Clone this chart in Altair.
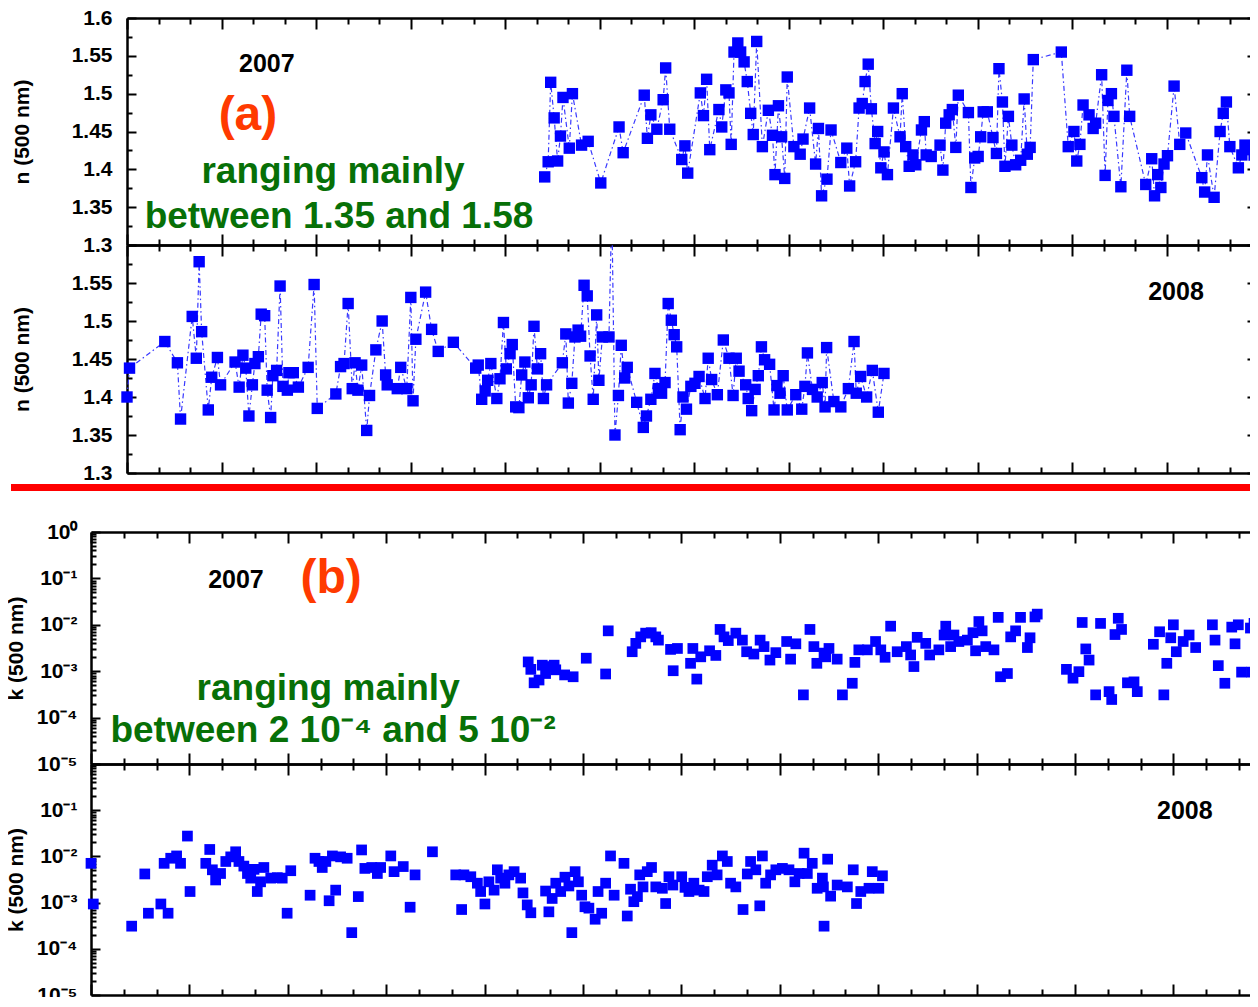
import altair as alt
import pandas as pd

# ---------------- data ----------------
n2007_day = [132.6, 133.7, 134.5, 135.6, 136.7, 137.6, 138.4, 140.4, 141.4, 144.3,
             146.4, 150.4, 156.2, 157.5, 164.2, 165.2, 166.3, 168.2, 170.2, 171.0,
             172.3, 176.1, 177.1, 178.0, 182.0, 183.0, 184.0, 185.0, 187.9, 188.8,
             190.1, 191.1, 191.8, 192.7, 193.9, 194.8, 195.9, 196.9, 198.0, 198.8,
             199.9, 201.7, 203.6, 204.9, 205.7, 206.8, 207.8, 208.8, 209.6, 211.7,
             213.7, 214.6, 216.7, 218.6, 219.5, 220.5, 222.2, 223.5, 226.6, 228.5,
             229.4, 231.3, 232.4, 233.4, 234.3, 235.3, 236.3, 237.5, 238.3, 239.3,
             240.3, 241.4, 243.3, 245.4, 246.1, 247.2, 248.3, 249.5, 250.4, 252.2,
             253.1, 253.7, 255.3, 258.1, 259.0, 259.9, 261.0, 262.0, 263.1, 263.9,
             267.1, 267.9, 269.1, 270.2, 271.0, 271.8, 273.1, 274.9, 276.0, 276.8,
             277.9, 278.7, 279.8, 280.9, 282.1, 283.7, 284.8, 285.8, 286.7, 287.7,
             296.6, 298.8, 300.6, 301.5, 302.5, 303.5, 305.4, 306.7, 307.5, 309.4,
             310.5, 311.4, 312.5, 313.3, 315.5, 317.4, 318.3, 323.4, 325.3, 326.2,
             327.2, 328.2, 329.2, 330.3, 332.4, 334.2, 336.1, 341.2, 342.1, 343.0,
             345.1, 347.0, 348.0, 349.0, 350.1, 352.8, 353.9, 354.9, 356.2, 357.8]
n2007 = [1.390, 1.410, 1.515, 1.468, 1.411, 1.444, 1.495, 1.428, 1.500, 1.432,
         1.437, 1.382, 1.456, 1.422, 1.498, 1.441, 1.472, 1.453, 1.492, 1.534,
         1.453, 1.413, 1.431, 1.395, 1.501, 1.471, 1.519, 1.426, 1.479, 1.456,
         1.505, 1.501, 1.433, 1.555, 1.567, 1.555, 1.542, 1.516, 1.474, 1.446,
         1.569, 1.430, 1.478, 1.445, 1.393, 1.484, 1.443, 1.388, 1.522, 1.430,
         1.420, 1.440, 1.481, 1.407, 1.454, 1.365, 1.387, 1.452, 1.409, 1.428,
         1.378, 1.410, 1.481, 1.487, 1.516, 1.539, 1.480, 1.434, 1.450, 1.402,
         1.423, 1.393, 1.481, 1.443, 1.500, 1.430, 1.404, 1.419, 1.406, 1.452,
         1.463, 1.419, 1.417, 1.432, 1.399, 1.461, 1.472, 1.479, 1.429, 1.498,
         1.475, 1.376, 1.415, 1.417, 1.443, 1.476, 1.476, 1.442, 1.421, 1.533,
         1.489, 1.404, 1.470, 1.432, 1.406, 1.412, 1.493, 1.420, 1.429, 1.545,
         1.555, 1.430, 1.450, 1.411, 1.433, 1.485, 1.472, 1.454, 1.461, 1.525,
         1.392, 1.491, 1.500, 1.470, 1.377, 1.531, 1.470, 1.380, 1.414, 1.365,
         1.393, 1.376, 1.407, 1.418, 1.510, 1.433, 1.448, 1.389, 1.370, 1.419,
         1.363, 1.450, 1.474, 1.489, 1.430, 1.402, 1.419, 1.432, 1.426, 1.419]

n2008_day = [0.0, 0.8, 12.0, 16.0, 17.0, 20.7, 22.0, 22.9, 23.7, 25.8,
             26.9, 28.7, 29.7, 34.3, 35.6, 36.8, 37.7, 38.7, 39.8, 40.6,
             41.7, 42.6, 43.7, 44.5, 45.6, 46.3, 47.5, 48.6, 49.5, 50.9,
             51.4, 52.8, 54.4, 57.5, 59.4, 60.4, 66.3, 67.8, 68.9, 70.2,
             71.5, 72.4, 73.3, 74.5, 76.1, 77.0, 79.0, 81.0, 82.1, 82.6,
             85.8, 86.9, 88.8, 90.1, 90.8, 91.7, 94.8, 96.7, 98.8, 103.6,
             110.7, 111.5, 112.6, 113.7, 114.5, 115.5, 117.4, 118.4, 119.5, 120.4,
             121.6, 122.3, 123.4, 124.4, 125.3, 126.3, 127.4, 128.3, 129.2, 130.3,
             131.3, 132.2, 133.2, 138.2, 139.3, 140.1, 141.2, 142.2, 143.2, 144.0,
             145.1, 146.1, 147.0, 148.0, 149.1, 149.8, 150.9, 153.0, 153.9, 154.9,
             156.0, 156.9, 158.0, 158.8, 161.8, 163.9, 164.9, 166.3, 167.6, 168.7,
             169.7, 170.8, 171.8, 172.8, 173.7, 174.5, 175.6, 176.5, 177.6, 179.0,
             180.3, 181.6, 183.5, 184.5, 185.6, 187.4, 189.3, 191.1, 192.4, 193.4,
             194.3, 196.4, 197.2, 198.3, 199.4, 200.4, 201.4, 202.4, 204.0, 205.4,
             206.3, 207.3, 208.3, 209.6, 212.3, 214.2, 215.2, 216.0, 217.6, 219.1,
             220.7, 221.6, 222.1, 224.4, 226.6, 229.0, 230.8, 231.5, 232.9, 234.8,
             236.6, 238.5, 240.3]
n2008 = [1.400, 1.438, 1.473, 1.445, 1.371, 1.506, 1.451, 1.578, 1.486, 1.383,
         1.426, 1.452, 1.416, 1.446, 1.413, 1.455, 1.438, 1.375, 1.416, 1.444,
         1.453, 1.509, 1.507, 1.409, 1.373, 1.428, 1.435, 1.546, 1.414, 1.409,
         1.432, 1.432, 1.413, 1.439, 1.548, 1.385, 1.404, 1.440, 1.444, 1.523,
         1.411, 1.445, 1.409, 1.442, 1.356, 1.402, 1.462, 1.500, 1.429, 1.416,
         1.411, 1.439, 1.411, 1.531, 1.395, 1.476, 1.538, 1.489, 1.460, 1.472,
         1.438, 1.442, 1.397, 1.408, 1.422, 1.444, 1.398, 1.424, 1.498, 1.437,
         1.457, 1.469, 1.387, 1.386, 1.429, 1.446, 1.399, 1.416, 1.493, 1.437,
         1.457, 1.398, 1.416, 1.445, 1.483, 1.392, 1.418, 1.479, 1.488, 1.480,
         1.547, 1.533, 1.454, 1.397, 1.508, 1.422, 1.479, 1.479, 1.650, 1.350,
         1.402, 1.468, 1.425, 1.439, 1.393, 1.360, 1.375, 1.397, 1.431, 1.411,
         1.405, 1.419, 1.523, 1.501, 1.482, 1.466, 1.357, 1.400, 1.384, 1.414,
         1.418, 1.427, 1.398, 1.451, 1.423, 1.403, 1.475, 1.451, 1.402, 1.451,
         1.434, 1.416, 1.398, 1.382, 1.410, 1.428, 1.466, 1.449, 1.443, 1.383,
         1.415, 1.405, 1.428, 1.383, 1.403, 1.384, 1.414, 1.458, 1.410, 1.400,
         1.419, 1.387, 1.465, 1.394, 1.387, 1.411, 1.473, 1.405, 1.427, 1.400,
         1.435, 1.380, 1.431]

k2007_day = [133.3, 134.1, 135.1, 136.6, 137.6, 138.6, 139.6, 141.2, 141.7, 144.4,
             147.0, 151.0, 156.9, 157.7, 165.0, 166.1, 167.6, 169.1, 170.8, 172.2,
             173.0, 176.7, 177.5, 178.8, 182.8, 183.5, 184.7, 185.9, 188.6, 190.5,
             191.8, 193.0, 194.3, 196.6, 198.6, 199.9, 202.1, 204.0, 205.2, 207.0,
             208.8, 212.1, 213.3, 214.9, 217.2, 219.2, 220.4, 221.3, 223.5, 224.0,
             225.0, 227.5, 229.1, 232.1, 232.9, 234.1, 236.7, 239.2, 240.8, 242.1,
             243.8, 245.8, 248.6, 249.9, 250.9, 251.9, 254.5, 255.7, 258.5, 260.1,
             260.6, 262.1, 263.1, 264.6, 267.2, 268.9, 269.7, 270.7, 271.7, 272.8,
             275.3, 276.6, 277.3, 279.4, 280.4, 281.9, 283.4, 285.5, 286.3, 287.8,
             288.5, 297.4, 299.4, 301.2, 302.2, 303.3, 304.3, 306.3, 307.8, 310.4,
             311.2, 312.2, 313.2, 314.2, 316.0, 318.0, 319.0, 323.9, 325.8, 327.1,
             328.0, 329.2, 330.0, 330.9, 333.0, 334.8, 336.8, 341.9, 342.7, 343.7,
             345.7, 347.8, 348.8, 349.8, 350.8, 353.5, 353.9, 354.6]
k2007_log10 = [-2.80, -2.96, -3.25, -3.19, -2.87, -3.05, -2.90, -2.87, -2.97, -3.08,
               -3.12, -2.72, -3.06, -2.13, -2.58, -2.40, -2.26, -2.18, -2.17, -2.26,
               -2.33, -2.53, -2.99, -2.51, -2.83, -2.51, -3.17, -2.69, -2.56, -2.66,
               -2.10, -2.26, -2.34, -2.18, -2.33, -2.58, -2.63, -2.33, -2.47, -2.76,
               -2.60, -2.36, -2.74, -2.41, -3.51, -2.10, -2.47, -2.83, -2.61, -2.69,
               -2.51, -2.74, -3.51, -3.26, -2.81, -2.54, -2.54, -2.36, -2.54, -2.70,
               -2.03, -2.58, -2.47, -2.65, -2.90, -2.27, -2.40, -2.65, -2.54, -2.22,
               -2.03, -2.47, -2.22, -2.36, -2.33, -2.17, -2.56, -1.93, -2.13, -2.47,
               -2.54, -1.84, -3.12, -3.05, -2.26, -2.13, -1.84, -2.49, -2.28, -1.83,
               -1.77, -2.96, -3.15, -3.01, -1.95, -2.52, -2.76, -3.51, -1.97, -3.44,
               -3.61, -2.21, -1.86, -2.10, -3.25, -3.23, -3.44, -2.42, -2.15, -3.51,
               -2.83, -2.28, -2.00, -2.58, -2.36, -2.22, -2.49, -2.00, -2.33, -2.88,
               -3.26, -2.05, -2.41, -2.00, -3.02, -2.07, -3.02, -1.97]

k2008_day = [0.0, 0.7, 12.4, 16.4, 17.5, 21.3, 22.3, 23.5, 24.3, 26.1,
             27.3, 29.4, 30.2, 35.0, 36.2, 37.0, 38.0, 39.5, 41.1, 42.6,
             44.1, 45.1, 46.6, 47.7, 48.7, 49.7, 50.7, 51.7, 52.7, 54.8,
             56.8, 58.3, 59.8, 60.9, 66.8, 68.3, 69.5, 70.5, 71.6, 72.6,
             73.6, 74.6, 76.1, 78.1, 79.5, 81.5, 82.5, 83.5, 85.6, 87.3,
             88.3, 91.4, 92.4, 95.2, 97.3, 98.8, 104.1, 111.2, 113.0, 113.7,
             115.8, 117.8, 118.8, 120.1, 121.3, 122.9, 123.9, 124.9, 126.2, 127.4,
             129.0, 131.0, 131.7, 133.0, 134.1, 138.6, 139.6, 140.6, 141.7, 143.2,
             144.5, 145.7, 146.6, 147.6, 148.6, 149.6, 150.6, 151.8, 153.7, 154.6,
             155.7, 156.9, 158.4, 159.5, 162.5, 163.5, 164.5, 165.5, 166.6, 167.3,
             168.3, 169.6, 170.9, 172.2, 174.2, 175.2, 176.2, 177.4, 180.1, 181.1,
             182.3, 183.8, 185.4, 186.9, 187.9, 189.4, 190.9, 192.5, 194.0, 195.0,
             196.6, 198.8, 200.1, 201.1, 202.7, 203.9, 204.7, 205.7, 207.2, 208.8,
             210.8, 212.8, 214.6, 215.9, 217.4, 218.4, 219.9, 221.4, 223.0, 223.3,
             223.5, 224.6, 225.5, 227.5, 230.6, 232.4, 233.4, 234.7, 237.2, 238.2,
             240.2, 241.3]
k2008_log10 = [-2.15, -3.03, -3.51, -2.38, -3.23, -3.03, -2.15, -3.23, -2.04, -1.99,
               -2.15, -1.56, -2.76, -2.15, -1.85, -2.29, -2.51, -2.37, -2.11, -2.01,
               -1.90, -2.11, -2.21, -2.37, -2.47, -2.28, -2.76, -2.55, -2.24, -2.47,
               -2.46, -2.47, -3.23, -2.31, -2.84, -2.04, -2.11, -2.24, -2.11, -2.96,
               -1.99, -2.73, -2.01, -2.04, -3.65, -2.87, -1.86, -2.26, -2.24, -2.37,
               -2.24, -1.99, -2.33, -2.22, -3.10, -2.40, -1.90, -2.40, -3.15, -2.40,
               -2.44, -2.58, -2.76, -3.03, -2.55, -2.73, -2.29, -2.47, -2.58, -2.40,
               -2.33, -2.47, -2.79, -3.05, -3.22, -2.75, -3.20, -2.91, -2.58, -2.76,
               -2.45, -2.64, -3.65, -2.33, -2.55, -2.84, -3.09, -3.12, -3.36, -2.76,
               -3.23, -2.58, -1.99, -2.84, -2.15, -3.29, -2.71, -2.98, -2.87, -2.40,
               -2.66, -2.33, -2.24, -2.66, -2.69, -3.02, -2.44, -2.62, -2.44, -2.67,
               -2.76, -2.58, -2.73, -2.76, -2.44, -2.19, -2.40, -1.99, -2.11, -2.58,
               -2.66, -3.15, -2.38, -2.11, -2.29, -3.07, -1.99, -2.58, -2.40, -2.29,
               -2.26, -2.29, -2.55, -2.37, -1.93, -2.37, -2.15, -2.69, -2.47, -2.66,
               -3.51, -2.06, -2.86, -2.62, -2.66, -2.29, -3.02, -2.76, -2.69, -2.33,
               -2.69, -2.42]

# ---------------- styling / layout ----------------
FONT = "Liberation Sans"
BLUE = "#0000ff"
LINE_BLUE = "#3838ff"
ORANGE = "#ff3a00"
GREEN = "#077007"
RED = "#ff0000"

W_A = 1129
W_B = 1130
XB0 = -36
H_A1, H_A2, H_GAP, H_B1, H_B2 = 227, 228, 59, 232, 231

x_major = list(range(0, 331, 30))
x_minor = [d for d in range(10, 360, 10) if d % 30 != 0]
n_major = [1.3, 1.35, 1.4, 1.45, 1.5, 1.55, 1.6]
n_minor = [1.325, 1.375, 1.425, 1.475, 1.525, 1.575]
k_major = [1e-5, 1e-4, 1e-3, 1e-2, 1e-1, 1.0]
k_minor = [m * 10.0 ** e for e in range(-5, 0) for m in range(2, 10)]

xa_scale = alt.Scale(domain=[0, 358.4], range=[0, W_A], nice=False, zero=False)
xb_scale = alt.Scale(domain=[0, 355.5], range=[XB0, W_B], nice=False, zero=False)
n_scale = alt.Scale(domain=[1.3, 1.6], nice=False, zero=False)
k_scale = alt.Scale(type="log", domain=[1e-5, 1], nice=False)

K_EXPR = ("['10\u207b\u2075','10\u207b\u2074','10\u207b\u00b3','10\u207b\u00b2',"
          "'10\u207b\u00b9','10\u2070'][round(log(datum.value)/LN10)+5]")


def tick_axis(orient, offset, values, size, domain):
    return alt.Axis(orient=orient, offset=offset, values=values, tickSize=size,
                    ticks=True, labels=False, domain=domain, grid=False, title=None,
                    tickColor="black", tickWidth=2, domainColor="black",
                    domainWidth=2.5, minExtent=0, maxExtent=0)


def label_axis(offset, values, title, label_pad, title_pad, **fmt):
    return alt.Axis(orient="left", offset=offset, values=values, ticks=False,
                    tickSize=0, domain=False, labels=True, grid=False,
                    labelFont=FONT, labelFontSize=21, labelFontWeight="bold",
                    labelColor="black", labelPadding=label_pad, labelOverlap=False,
                    labelFlush=False, title=title, titleFont=FONT, titleFontSize=21,
                    titleFontWeight="bold", titleColor="black",
                    titlePadding=title_pad, minExtent=0, **fmt)


def panel(marks, yfield, xscale, yscale, H, W, x0, ymaj, ymin, lab_axis,
          right_frame, texts):
    carrier = pd.DataFrame({"day": [100.0], yfield: [ymaj[1]]})

    def xe(axis):
        return alt.X("day:Q", scale=xscale, axis=axis)

    def ye(axis):
        return alt.Y(f"{yfield}:Q", scale=yscale, axis=axis)

    def c(xa, ya):
        return alt.Chart(carrier).mark_point(opacity=0).encode(x=xe(xa), y=ye(ya))

    layers = [m.encode(x=xe(None), y=ye(None)) for m in marks]
    for txt, d, v, size, color in texts:
        tdf = pd.DataFrame({"day": [d], yfield: [v], "label": [txt]})
        layers.append(
            alt.Chart(tdf).mark_text(font=FONT, fontSize=size, fontWeight="bold",
                                     color=color, align="center",
                                     baseline="alphabetic")
            .encode(x=xe(None), y=ye(None), text="label:N"))
    layers += [
        c(tick_axis("top", -H, x_major, 11, True), lab_axis),
        c(tick_axis("top", -H, x_minor, 6, False),
          tick_axis("right", x0 - W, ymaj, 9, True)),
        c(tick_axis("bottom", -H, x_major, 11, True),
          tick_axis("right", x0 - W, ymin, 5, False)),
    ]
    if right_frame:
        layers.append(c(tick_axis("bottom", -H, x_minor, 6, False),
                        tick_axis("left", -W, ymaj, 9, True)))
        layers.append(c(None, tick_axis("left", -W, ymin, 5, False)))
    else:
        layers.append(c(tick_axis("bottom", -H, x_minor, 6, False), None))
    return (alt.layer(*layers)
            .resolve_axis(x="independent", y="independent")
            .properties(width=W, height=H))


def n_marks(df):
    line = alt.Chart(df).mark_line(clip=True, color=LINE_BLUE, strokeWidth=1.2,
                                   strokeDash=[5, 3, 1.5, 3])
    sq = (alt.Chart(df).transform_filter("datum.n <= 1.6")
          .mark_square(size=130, color=BLUE, opacity=1))
    return [line, sq]


def k_marks(df):
    return [alt.Chart(df).transform_calculate(k="pow(10, datum.logk)")
            .mark_square(size=115, color=BLUE, opacity=1)]


df_n07 = pd.DataFrame({"day": n2007_day, "n": n2007})
df_n08 = pd.DataFrame({"day": n2008_day, "n": n2008})
df_k07 = pd.DataFrame({"day": k2007_day, "logk": k2007_log10})
df_k08 = pd.DataFrame({"day": k2008_day, "logk": k2008_log10})

a1 = panel(n_marks(df_n07), "n", xa_scale, n_scale, H_A1, W_A, 0, n_major, n_minor,
           label_axis(0, n_major, "n (500 nm)", 15, 39, format=".2~f"), True,
           [("2007", 44.4, 1.529, 25, "black"),
            ("(a)", 38.4, 1.452, 48, ORANGE),
            ("ranging mainly", 65.4, 1.382, 37, GREEN),
            ("between 1.35 and 1.58", 67.3, 1.3225, 37, GREEN)])

a2 = panel(n_marks(df_n08), "n", xa_scale, n_scale, H_A2, W_A, 0, n_major, n_minor,
           label_axis(0, n_major[:-1], "n (500 nm)", 15, 39, format=".2~f"), True,
           [("2008", 333.0, 1.5276, 25, "black")])

b1 = panel(k_marks(df_k07), "k", xb_scale, k_scale, H_B1, W_B, XB0, k_major, k_minor,
           label_axis(-XB0, k_major, "k (500 nm)", 14, 10, labelExpr=K_EXPR), False,
           [("2007", 44.2, 10 ** -1.207, 25, "black"),
            ("(b)", 73.2, 10 ** -1.315, 48, ORANGE),
            ("ranging mainly", 72.3, 10 ** -3.62, 37, GREEN),
            ("between 2 10\u207b\u2074 and 5 10\u207b\u00b2", 73.8, 10 ** -4.526, 37,
             GREEN)])

b2 = panel(k_marks(df_k08), "k", xb_scale, k_scale, H_B2, W_B, XB0, k_major, k_minor,
           label_axis(-XB0, k_major[:-1], "k (500 nm)", 14, 10, labelExpr=K_EXPR),
           False,
           [("2008", 333.5, 10 ** -1.19, 25, "black")])


def red_band(H, y, sw):
    return (alt.Chart(pd.DataFrame({"v": [0]}))
            .mark_rule(color=RED, strokeWidth=sw)
            .encode(x=alt.value(-116), x2=alt.value(W_B), y=alt.value(y))
            .properties(width=W_B, height=H))


chart = (alt.vconcat(a1, a2, red_band(H_GAP, 14.5, 7), b1, b2,
                     spacing=0, bounds="flush")
         .properties(padding={"left": -3, "top": -1, "right": -43, "bottom": -8})
         .configure_view(stroke=None))

chart.save("out.html", embed_options={"renderer": "svg", "actions": False})
